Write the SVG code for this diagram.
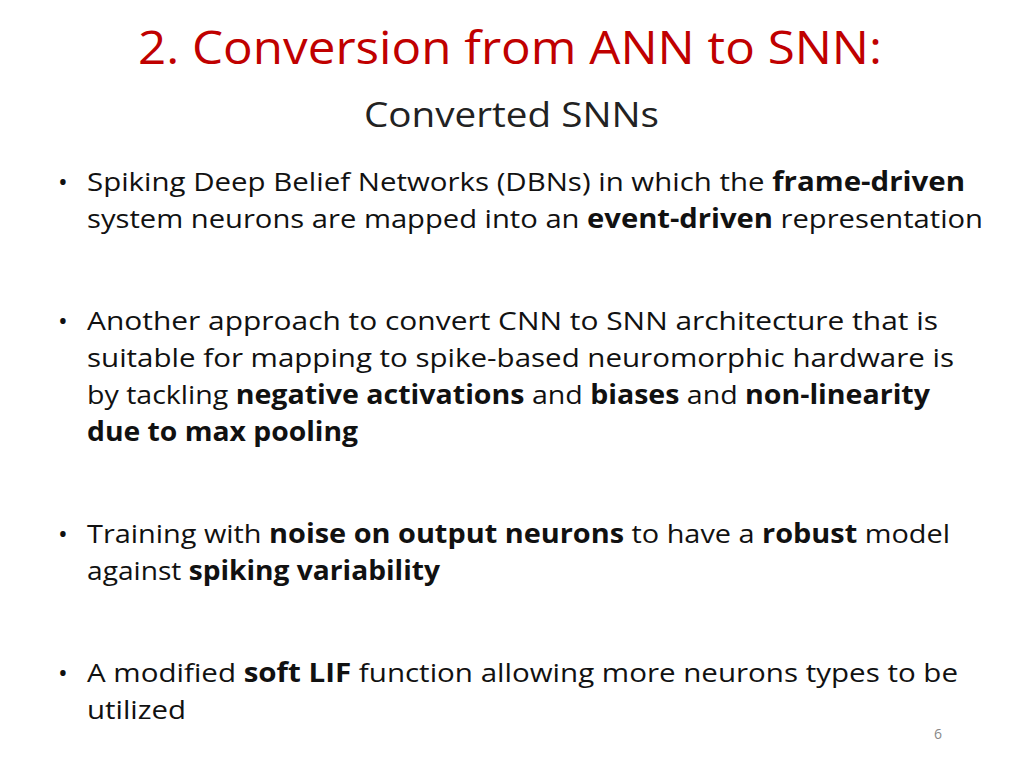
<svg xmlns="http://www.w3.org/2000/svg" width="1024" height="768" viewBox="0 0 1024 768">
<style>
text{font-family:"Open Sans","Liberation Sans",sans-serif;fill:#111}
.t{fill:#C00000;font-size:46px}
.s{font-size:34px;fill:#222}
.b{font-size:26px}
b,.k{font-weight:bold}
</style>
<rect width="1024" height="768" fill="#fff"/>
<text class="t" x="138" y="64" textLength="744" lengthAdjust="spacingAndGlyphs">2. Conversion from ANN to SNN:</text>
<text class="s" x="364" y="127" textLength="295" lengthAdjust="spacingAndGlyphs">Converted SNNs</text>
<g class="b">
<text x="58" y="191">•</text>
<text x="87" y="191" textLength="878" lengthAdjust="spacingAndGlyphs">Spiking Deep Belief Networks (DBNs) in which the <tspan class="k">frame-driven</tspan></text>
<text x="87" y="228" textLength="896" lengthAdjust="spacingAndGlyphs">system neurons are mapped into an <tspan class="k">event-driven</tspan> representation</text>
<text x="58" y="330">•</text>
<text x="87" y="330" textLength="851" lengthAdjust="spacingAndGlyphs">Another approach to convert CNN to SNN  architecture that is</text>
<text x="87" y="367" textLength="867" lengthAdjust="spacingAndGlyphs">suitable for mapping to spike-based neuromorphic hardware is</text>
<text x="87" y="404" textLength="843" lengthAdjust="spacingAndGlyphs">by tackling <tspan class="k">negative activations</tspan> and <tspan class="k">biases</tspan> and <tspan class="k">non-linearity</tspan></text>
<text x="87" y="441" textLength="271" lengthAdjust="spacingAndGlyphs" class="k">due to max pooling</text>
<text x="58" y="543">•</text>
<text x="87" y="543" textLength="863" lengthAdjust="spacingAndGlyphs">Training with <tspan class="k">noise on output neurons</tspan> to have a <tspan class="k">robust</tspan> model</text>
<text x="87" y="580" textLength="353" lengthAdjust="spacingAndGlyphs">against <tspan class="k">spiking variability</tspan></text>
<text x="58" y="682">•</text>
<text x="87" y="682" textLength="871" lengthAdjust="spacingAndGlyphs">A modified <tspan class="k">soft LIF</tspan> function allowing more neurons types to be</text>
<text x="87" y="719" textLength="99" lengthAdjust="spacingAndGlyphs">utilized</text>
</g>
<text x="934" y="739" style="font-size:14px;fill:#888">6</text>
</svg>
